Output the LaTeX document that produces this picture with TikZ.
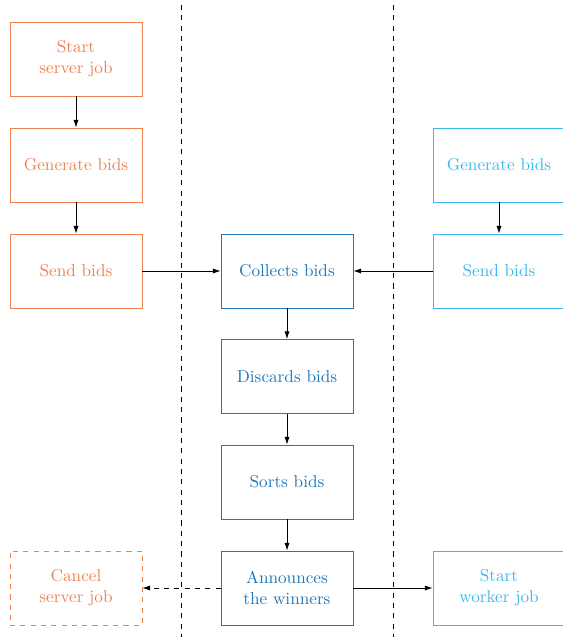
\documentclass[tikz,border=0pt]{standalone}
\usetikzlibrary{arrows.meta}
\definecolor{srv}{RGB}{240,130,80}
\definecolor{mid}{RGB}{30,120,185}
\definecolor{wrk}{RGB}{60,185,235}
\begin{document}
\begin{tikzpicture}[x=0.582pt,y=-0.582pt,
  box/.style={draw,minimum width=132*0.582pt,minimum height=74*0.582pt,align=center,inner sep=0pt},
  sbox/.style={box,draw=srv,text=srv},
  mbox/.style={box,draw=mid,text=mid},
  wbox/.style={box,draw=wrk,text=wrk},
  arr/.style={-{Latex[length=4.5pt,width=3pt]},line width=0.5pt},
  sep/.style={dashed,line width=0.5pt}]
\useasboundingbox (0,0) rectangle (563,637);
\draw[sep] (181,5) -- (181,637);
\draw[sep] (393,5) -- (393,637);
\node[sbox] (s1) at (76,59) {Start\\server job};
\node[sbox] (s2) at (76,165) {Generate bids};
\node[sbox] (s3) at (76,271) {Send bids};
\node[sbox,dashed] (s4) at (76,588) {Cancel\\server job};
\node[mbox] (m1) at (287,271) {Collects bids};
\node[mbox] (m2) at (287,376.5) {Discards bids};
\node[mbox] (m3) at (287,482) {Sorts bids};
\node[mbox] (m4) at (287,588) {Announces\\the winners};
\node[wbox] (w1) at (499,165) {Generate bids};
\node[wbox] (w2) at (499,271) {Send bids};
\node[wbox] (w3) at (499,588) {Start\\worker job};
\draw[arr] (s1) -- (s2);
\draw[arr] (s2) -- (s3);
\draw[arr] (s3) -- (m1);
\draw[arr] (w1) -- (w2);
\draw[arr] (w2) -- (m1);
\draw[arr] (m1) -- (m2);
\draw[arr] (m2) -- (m3);
\draw[arr] (m3) -- (m4);
\draw[arr,dashed] (m4) -- (s4);
\draw[arr] (m4) -- (w3);
\end{tikzpicture}
\end{document}
